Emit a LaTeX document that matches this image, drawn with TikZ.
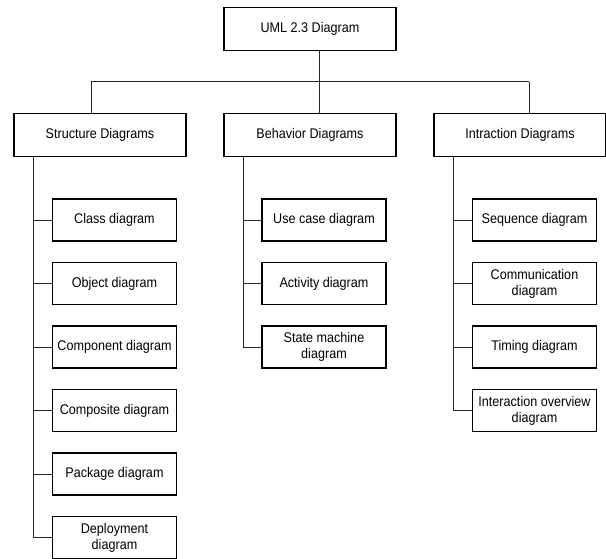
\documentclass[tikz,border=0pt]{standalone}
\usepackage{fontspec}
\setmainfont{Liberation Sans}[FakeStretch=0.9]
\tikzset{
  topbox/.style={draw=black, line width=0.85pt, minimum width=129pt, minimum height=32.25pt, inner sep=1pt, align=center, font=\fontsize{10.5}{12}\selectfont},
  leafbox/.style={draw=black, line width=0.85pt, minimum width=93pt, minimum height=31.5pt, inner sep=1pt, align=center, font=\fontsize{10.5}{12}\selectfont},
  conn/.style={draw=black!85, line width=0.75pt},
}
\begin{document}
\begin{tikzpicture}[x=0.75pt,y=-0.75pt]
\useasboundingbox (0,0) rectangle (606,558);
% top and categories
\node[topbox] (uml) at (310,28.7) {UML 2.3 Diagram};
\node[topbox] (sd) at (100,134.7) {Structure Diagrams};
\node[topbox] (bd) at (310,134.7) {Behavior Diagrams};
\node[topbox] (id) at (520,134.7) {Intraction Diagrams};
% structure children
\node[leafbox] (class) at (114.5,220) {Class diagram};
\node[leafbox] (object) at (114.5,283.5) {Object diagram};
\node[leafbox] (component) at (114.5,347) {Component diagram};
\node[leafbox] (composite) at (114.5,410.5) {Composite diagram};
\node[leafbox] (package) at (114.5,474) {Package diagram};
\node[leafbox] (deploy) at (114.5,537.5) {Deployment\\diagram};
% behavior children
\node[leafbox] (usecase) at (324,220) {Use case diagram};
\node[leafbox] (activity) at (324,283.5) {Activity diagram};
\node[leafbox] (state) at (324,347) {State machine\\diagram};
% interaction children
\node[leafbox] (sequence) at (534.5,220) {Sequence diagram};
\node[leafbox] (comm) at (534.5,283.5) {Communication\\diagram};
\node[leafbox] (timing) at (534.5,347) {Timing diagram};
\node[leafbox] (overview) at (534.5,410.5) {Interaction overview\\diagram};
% bus
\coordinate (busc) at (319.3,81.7);
\coordinate (busl) at (91,81.7);
\coordinate (busr) at (529.3,81.7);
\draw[conn] (uml.south -| busc) -- (busc);
\draw[conn] (busl) -- (busr);
\draw[conn] (busl) -- (busl |- sd.north);
\draw[conn] (busc) -- (busc |- bd.north);
\draw[conn] (busr) -- (busr |- id.north);
% structure spine
\coordinate (sx) at (33.3,0);
\draw[conn] (sd.south -| sx) |- (deploy.west);
\foreach \c in {class,object,component,composite,package}
  \draw[conn] (\c.west -| sx) -- (\c.west);
% behavior spine
\coordinate (bx) at (243.3,0);
\draw[conn] (bd.south -| bx) |- (state.west);
\foreach \c in {usecase,activity}
  \draw[conn] (\c.west -| bx) -- (\c.west);
% interaction spine
\coordinate (ix) at (453.3,0);
\draw[conn] (id.south -| ix) |- (overview.west);
\foreach \c in {sequence,comm,timing}
  \draw[conn] (\c.west -| ix) -- (\c.west);
\end{tikzpicture}
\end{document}
